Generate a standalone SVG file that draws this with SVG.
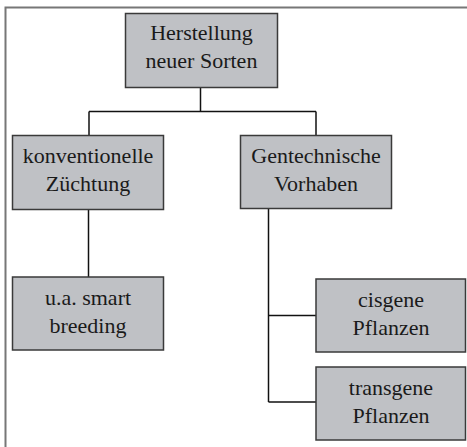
<svg xmlns="http://www.w3.org/2000/svg" width="467" height="447" viewBox="0 0 467 447">
<style>
.box{fill:#bfc1c5;stroke:#3a3a3a;stroke-width:1.5}
.t{font-family:'Liberation Serif','Times New Roman',Times,'DejaVu Serif',serif;font-size:22px;fill:#1a1a1a;text-anchor:middle}
.c{fill:none;stroke:#111;stroke-width:1.5}
.frame{fill:none;stroke:#777;stroke-width:2}
</style>
<rect width="467" height="447" fill="#fff"/>
<path class="frame" d="M5.5,447 V7.5 H467"/>
<g id="connectors">
<path class="c" d="M200.5,88 V111.5"/>
<path class="c" d="M89,111.5 H316"/>
<path class="c" d="M89,111.5 V135"/>
<path class="c" d="M316,111.5 V135"/>
<path class="c" d="M88.5,209 V277"/>
<path class="c" d="M268.5,209 V402"/>
<path class="c" d="M268.5,315.5 H316"/>
<path class="c" d="M268.5,402 H316"/>
</g>
<g id="n1"><rect class="box" x="125.5" y="13.5" width="152" height="74"/>
<text class="t" x="201.5" y="40" font-family="Liberation Serif, serif">Herstellung</text><text class="t" x="201.5" y="68" font-family="Liberation Serif, serif">neuer Sorten</text></g>
<g id="n2"><rect class="box" x="12.5" y="135.5" width="151" height="74"/>
<text class="t" x="88" y="163" font-family="Liberation Serif, serif">konventionelle</text><text class="t" x="88" y="191" font-family="Liberation Serif, serif">Züchtung</text></g>
<g id="n3"><rect class="box" x="240.5" y="135.5" width="151" height="73"/>
<text class="t" x="316" y="163" font-family="Liberation Serif, serif">Gentechnische</text><text class="t" x="316" y="191" font-family="Liberation Serif, serif">Vorhaben</text></g>
<g id="n4"><rect class="box" x="12.5" y="277" width="151" height="73"/>
<text class="t" x="88" y="305" font-family="Liberation Serif, serif">u.a. smart</text><text class="t" x="88" y="333" font-family="Liberation Serif, serif">breeding</text></g>
<g id="n5"><rect class="box" x="316" y="279" width="149.5" height="73"/>
<text class="t" x="391" y="307" font-family="Liberation Serif, serif">cisgene</text><text class="t" x="391" y="335" font-family="Liberation Serif, serif">Pflanzen</text></g>
<g id="n6"><rect class="box" x="316" y="367" width="149.5" height="73"/>
<text class="t" x="391" y="395" font-family="Liberation Serif, serif">transgene</text><text class="t" x="391" y="423" font-family="Liberation Serif, serif">Pflanzen</text></g>
</svg>
